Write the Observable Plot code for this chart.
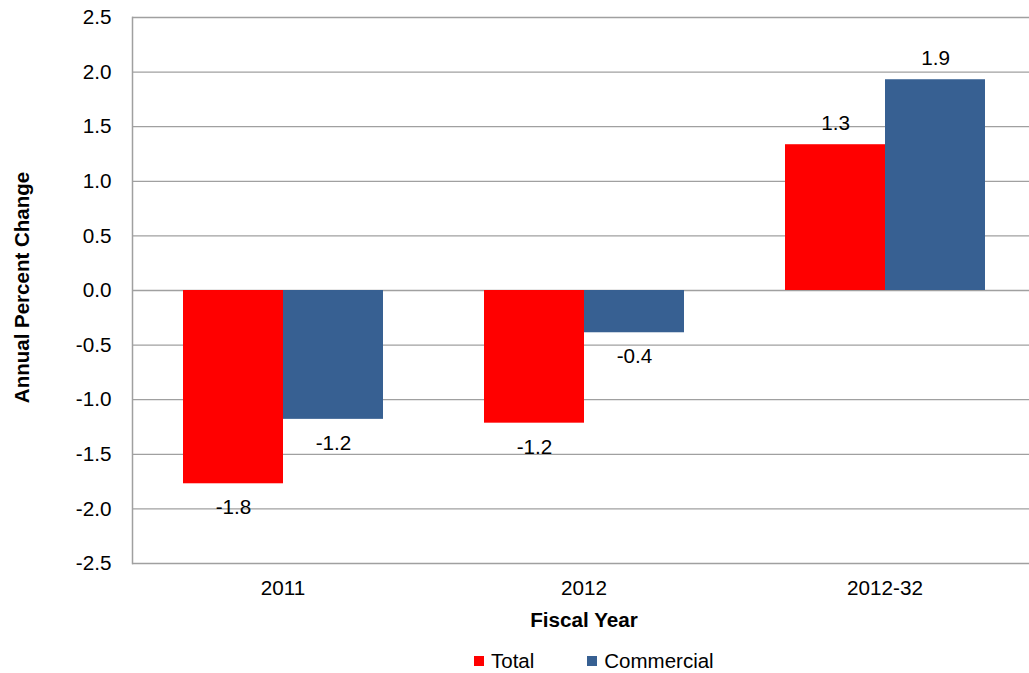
<!DOCTYPE html>
<html>
<head>
<meta charset="utf-8">
<script src="https://cdn.jsdelivr.net/npm/d3@7"></script>
<script src="https://cdn.jsdelivr.net/npm/@observablehq/plot@0.6"></script>
<style>
  html, body { margin: 0; padding: 0; background: #fff; }
  body { width: 1029px; height: 673px; overflow: hidden; font-family: "Liberation Sans", Arial, sans-serif; }
  #legend-wrap { display: flex; justify-content: flex-start; margin-top: 9px; padding-left: 474px; }
  #legend-wrap .lg-swatches { font-family: "Liberation Sans", Arial, sans-serif !important; font-size: 20.5px !important; color: #000 !important; min-height: 24px !important; margin: 0 !important; }
  #legend-wrap .lg-swatch { margin-right: 53px !important; }
  #legend-wrap .lg-swatch svg { margin-right: 7px !important; }
</style>
</head>
<body>
<div id="chart"></div>
<script>
const categories = ["2011", "2012", "2012-32"];
const series = ["Total", "Commercial"];
const totalValues = [-1.77, -1.215, 1.335];
const commercialValues = [-1.18, -0.387, 1.93];
const totalLabels = ["-1.8", "-1.2", "1.3"];
const commercialLabels = ["-1.2", "-0.4", "1.9"];
const yTicks = [-2.5, -2.0, -1.5, -1.0, -0.5, 0.0, 0.5, 1.0, 1.5, 2.0, 2.5];
const seriesColors = ["#FF0000", "#376092"];
const xTitle = "Fiscal Year";
const yTitle = "Annual Percent Change";

const rows = [];
categories.forEach((c, i) => {
  rows.push({category: c, series: series[0], value: totalValues[i], label: totalLabels[i]});
  rows.push({category: c, series: series[1], value: commercialValues[i], label: commercialLabels[i]});
});

const font = "'Liberation Sans', Arial, sans-serif";
const fs = 20.7;

const chart = Plot.plot({
  width: 1029,
  height: 640,
  marginLeft: 131,
  marginRight: -7,
  marginTop: 17,
  marginBottom: 77,
  style: {fontFamily: font, fontSize: fs + "px", color: "#000", background: "#fff", overflow: "hidden"},
  fx: {domain: categories, padding: 0, label: null},
  x: {domain: series, paddingInner: 0, paddingOuter: 0.5, axis: null},
  y: {domain: [-2.5, 2.5], axis: null},
  color: {domain: series, range: seriesColors},
  marks: [
    Plot.ruleY(yTicks, {stroke: "#a0a0a0", strokeWidth: 1.3}),
    Plot.frame({anchor: "left", fx: categories[0], stroke: "#a0a0a0", strokeWidth: 1.5}),
    Plot.barY(rows, {fx: "category", x: "series", y: "value", fill: "series"}),
    Plot.text(rows, {filter: d => d.value < 0, fx: "category", x: "series", y: "value", text: "label", dy: 24, fill: "#000", fontSize: fs}),
    Plot.text(rows, {filter: d => d.value >= 0, fx: "category", x: "series", y: "value", text: "label", dy: -21, fill: "#000", fontSize: fs}),
    Plot.axisY(yTicks, {anchor: "left", tickSize: 0, tickPadding: 21, tickFormat: d => d.toFixed(1), label: null, fontSize: fs}),
    Plot.axisFx({anchor: "bottom", tickSize: 0, tickPadding: 17, label: null, fontSize: fs}),
    Plot.text([xTitle], {fx: () => categories[1], text: d => d, frameAnchor: "bottom", dy: 63, fontWeight: "bold", fontSize: fs, fill: "#000"}),
    Plot.text([yTitle], {fx: () => categories[0], text: d => d, frameAnchor: "left", textAnchor: "middle", lineAnchor: "middle", rotate: -90, dx: -110, dy: -3, fontWeight: "bold", fontSize: 20.5, fill: "#000"})
  ]
});
document.getElementById("chart").appendChild(chart);

const legend = Plot.legend({
  color: {domain: series, range: seriesColors},
  className: "lg",
  swatchSize: 10
});
const wrap = document.createElement("div");
wrap.id = "legend-wrap";
wrap.appendChild(legend);
document.body.appendChild(wrap);
</script>
</body>
</html>
